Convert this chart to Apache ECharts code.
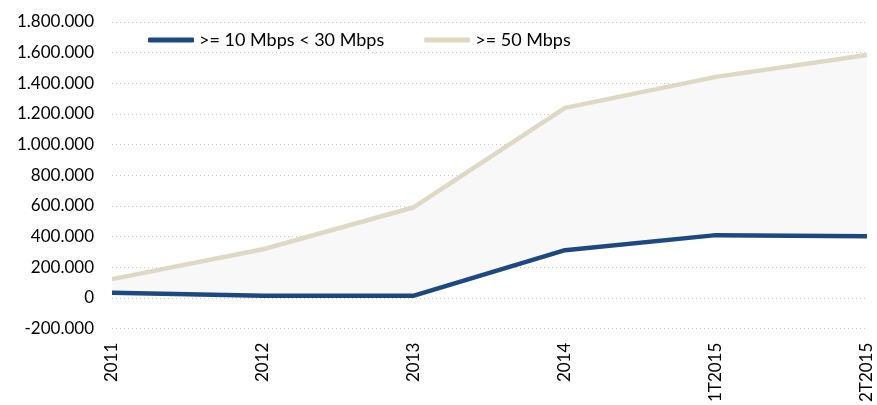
<!DOCTYPE html>
<html>
<head>
<meta charset="utf-8">
<script src="https://cdn.jsdelivr.net/npm/echarts@6/dist/echarts.min.js"></script>
<style>
  html, body { margin: 0; padding: 0; background: #fff; }
  #chart { width: 877px; height: 405px; }
</style>
</head>
<body>
<div id="chart"></div>
<script>
// periodi
var categories = ['2011', '2012', '2013', '2014', '1T2015', '2T2015'];
// linee (accessi)
var low = [35000, 15000, 15000, 312000, 410000, 403000];    // >= 10 Mbps < 30 Mbps
var high = [123000, 318000, 592000, 1240000, 1442000, 1585000]; // >= 50 Mbps

var fmt = function (v) {
  var s = String(Math.abs(v)).replace(/\B(?=(\d{3})+(?!\d))/g, '.');
  return (v < 0 ? '-' : '') + s;
};

var band = high.map(function (v, i) { return v - low[i]; });

var chart = echarts.init(document.getElementById('chart'));
chart.setOption({
  animation: false,
  textStyle: { fontFamily: 'Lato' },
  legend: {
    left: 143,
    top: 26,
    itemGap: 40,
    itemWidth: 46,
    itemHeight: 5,
    textStyle: { fontSize: 18, color: '#000', fontFamily: 'Lato' },
    data: [
      { name: '>= 10 Mbps < 30 Mbps', icon: 'roundRect' },
      { name: '>= 50 Mbps', icon: 'roundRect' }
    ]
  },
  grid: { left: 112, right: 10, top: 22, bottom: 75 },
  xAxis: {
    type: 'category',
    boundaryGap: false,
    data: categories,
    axisLine: { show: false },
    axisTick: { show: false },
    axisLabel: {
      rotate: 90,
      fontSize: 17,
      color: '#000',
      margin: 14,
      interval: 0
    }
  },
  yAxis: {
    type: 'value',
    min: -200000,
    max: 1800000,
    interval: 200000,
    axisLine: { show: false },
    axisTick: { show: false },
    axisLabel: { formatter: fmt, fontSize: 17, color: '#000', margin: 18 },
    splitLine: { lineStyle: { color: '#c8c8c8', type: [1, 3], width: 1 } }
  },
  series: [
    {
      name: 'base',
      type: 'line',
      stack: 'band',
      data: low,
      symbol: 'none',
      lineStyle: { opacity: 0 },
      silent: true
    },
    {
      name: 'fill',
      type: 'line',
      stack: 'band',
      data: band,
      symbol: 'none',
      lineStyle: { opacity: 0 },
      areaStyle: { color: '#f8f8f8', opacity: 1 },
      silent: true
    },
    {
      name: '>= 50 Mbps',
      type: 'line',
      data: high,
      symbol: 'none',
      color: '#ddd9c4',
      lineStyle: { width: 4.5, color: '#ddd9c4' }
    },
    {
      name: '>= 10 Mbps < 30 Mbps',
      type: 'line',
      data: low,
      symbol: 'none',
      color: '#1f497d',
      lineStyle: { width: 4.5, color: '#1f497d' },
      z: 3
    }
  ]
});
</script>
</body>
</html>
